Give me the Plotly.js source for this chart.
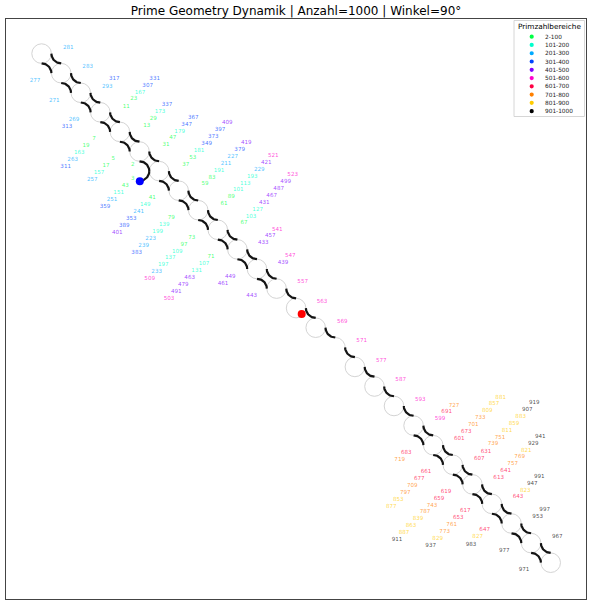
<!DOCTYPE html>
<html>
<head>
<meta charset="utf-8">
<script src="https://cdn.plot.ly/plotly-3.0.1.min.js"></script>
<style>html,body{margin:0;padding:0;background:#fff;}#chart{width:592px;height:605px;}</style>
</head>
<body>
<div id="chart"></div>
<script>
// ---- data ----
const primes = [2,3,5,7,11,13,17,19,23,29,31,37,41,43,47,53,59,61,67,71,73,79,83,89,97,
101,103,107,109,113,127,131,137,139,149,151,157,163,167,173,179,181,191,193,197,199,
211,223,227,229,233,239,241,251,257,263,269,271,277,281,283,293,
307,311,313,317,331,337,347,349,353,359,367,373,379,383,389,397,
401,409,419,421,431,433,439,443,449,457,461,463,467,479,487,491,499,
503,509,521,523,541,547,557,563,569,571,577,587,593,599,
601,607,613,617,619,631,641,643,647,653,659,661,673,677,683,691,
701,709,719,727,733,739,743,751,757,761,769,773,787,797,
809,811,821,823,827,829,839,853,857,859,863,877,881,883,887,
907,911,919,929,937,941,947,953,967,971,977,983,991,997];
const labelX = [132.7,132.7,113.3,94,126.3,146.7,106,86,133.7,153.3,166,185.7,152.3,125.3,172.7,192.7,205,224,244,211,191.7,171.3,212,231.3,184,
238.3,251,204,177.3,245.3,257.7,196.7,170.3,164.3,145.3,118.7,99,79.3,140,160,179.7,199,219,252.3,163.3,157.7,
226,150.7,232.7,259.3,156.7,143.7,138.7,112,92.3,72.7,74,54.3,35,68.3,87.7,107.3,
147.7,65.7,67,114.3,154.7,167,186.7,206.7,131.3,105,193.3,213.3,239.7,136.7,124.3,220,
117.3,227.3,246.3,266.3,264.3,263.3,283,251.7,230.3,270.3,223,189.7,271.7,183.3,278.7,176.3,285.7,
169,149.7,273.3,292.7,277.3,290.3,302.7,322,342.3,361.7,381.3,400.7,420.3,440,
459.3,479.3,498.7,465.3,446,486,505.7,518,484.7,458.3,439,426,466.3,419.3,406.3,446.7,
473.3,412.3,399.7,454,480.3,493,432,500,512.7,451.7,519.7,444.7,425,405.3,
487.3,507,526.3,525.3,477.7,437.7,418,398.3,494,514,411,391.3,500.7,520.7,404,
527.3,397,534.3,533.3,430.7,540.3,532.3,537.7,557.3,524,504.3,471,539.3,544.7];
const labelY = [164.3,178.3,159,139,106.3,125.3,166,146,99,118.3,145,164.3,197.7,185.3,138,157.7,184,204,223,256.7,237.3,217.7,177.3,196.7,244.3,
190,216.3,263.7,251.3,183.3,209.7,270.3,257.7,224.7,205,192.3,172.3,153,92.3,111.3,131.3,150.7,170.3,176.3,264.7,231.3,
163.3,238.3,156.3,169.3,271.7,245.3,211.7,199.3,179.3,160,119.7,100.3,81,47.7,67,86.3,
85.3,167,126.3,79,78.3,104.3,124.3,144,218.7,206.3,117.3,136.7,149.7,252.3,225.7,130,
232.7,123,142.7,162.3,202.7,243,262.7,295.7,276.7,236,283.3,277.3,195.7,284.7,188.7,291.3,181.7,
298.3,278.3,155.3,174.3,229.3,255.3,282,301.7,321.7,341,360.3,380,399.3,418.7,
439,458.3,477.7,511,491.7,451.3,470.7,497,530,518,498.3,472,431.7,478.7,452.3,412,
424.7,485.7,459.3,405.5,417.7,444,505.3,437.3,464,525,457,532,512,492.7,
411,430.7,450.3,490.3,537,538.7,519,499.7,404,423.7,526,506.7,397.3,416.7,533,
409.7,540,402.7,443.3,545.3,436.3,483.3,517,536.3,570,550.3,544.3,476.3,510];

const rangeNames = ['2-100','101-200','201-300','301-400','401-500','501-600','601-700','701-800','801-900','901-1000'];
const rangeColors = ['#00ff44','#00ffcc','#00aaff','#0044ff','#8000ff','#ff00cc','#ff0044','#ff8000','#ffcc00','#000000'];

// chain of circles along the diagonal (centres)
const diagX = [41.6,61.2,80.8,100.3,119.9,139.5,159.1,178.7,198.2,217.8,237.4,257.0,276.6,296.1,315.7,335.3,354.9,374.5,394.0,413.6,433.2,452.8,472.4,491.9,511.5,531.1,550.7];
const diagY = [53.6,73.2,92.8,112.3,131.9,151.5,171.1,190.7,210.2,229.8,249.4,269.0,288.6,308.1,327.7,347.3,366.9,386.5,406.0,425.6,445.2,464.8,484.4,503.9,523.5,543.1,562.7];
const missingCircles = [15];
const upperJunctions = [0,1,2,3,4,5,6,7,8,9,10,11,12,13,14,15,16,17,18,19,20,21,22,23,24,25];
const lowerJunctions = [0,1,2,3,4,5,6,7,8,9,10,11,19,20,21,22,23,24,25];
const startPoint = {x:139.8, y:181.3};
const endPoint = {x:301.7, y:314.0};

// ---- drawing ----
const R = 9.79;
const shapes = [];
diagX.forEach((cx, k) => {
  if (missingCircles.includes(k)) return;
  const cy = diagY[k];
  shapes.push({type:'circle', xref:'x', yref:'y', x0:cx-R, x1:cx+R, y0:cy-R, y1:cy+R,
    line:{color:'#d4d4d4', width:1}, layer:'below'});
});

function addArc(cx, cy, a0, a1, xs, ys) {
  const N = 24;
  for (let i = 0; i <= N; i++) {
    const t = (a0 + (a1 - a0) * i / N) * Math.PI / 180;
    xs.push(cx + R * Math.cos(t));
    ys.push(cy + R * Math.sin(t));
  }
  xs.push(null); ys.push(null);
}
const bx = [], by = [];
upperJunctions.forEach(j => addArc(diagX[j+1], diagY[j], 90, 180, bx, by));
lowerJunctions.forEach(j => addArc(diagX[j], diagY[j+1], 270, 360, bx, by));
addArc(diagX[5], diagY[6], 90, 0, bx, by);
const fx = [], fy = [];
missingCircles.forEach(k => addArc(diagX[k], diagY[k], 270, 360, fx, fy));

const traces = [];
traces.push({type:'scatter', mode:'lines', x:fx, y:fy, line:{color:'#d4d4d4', width:1}, hoverinfo:'skip', showlegend:false});
traces.push({type:'scatter', mode:'lines', x:bx, y:by, line:{color:'rgba(0,0,0,0.92)', width:2.2}, hoverinfo:'skip', showlegend:false});

function hexA(h, a) {
  const r = parseInt(h.slice(1,3),16), g = parseInt(h.slice(3,5),16), b = parseInt(h.slice(5,7),16);
  return 'rgba(' + r + ',' + g + ',' + b + ',' + a + ')';
}
rangeNames.forEach((name, gi) => {
  const xs = [], ys = [], ts = [];
  primes.forEach((p, i) => {
    if (Math.min(9, Math.floor((p - 1) / 100)) === gi) { xs.push(labelX[i]); ys.push(labelY[i]); ts.push(String(p)); }
  });
  traces.push({type:'scatter', mode:'text', x:xs, y:ys, text:ts, textposition:'middle center',
    textfont:{family:'DejaVu Sans', size:5.6, color:hexA(rangeColors[gi], 0.72)}, name:name, showlegend:false, hoverinfo:'text'});
});
traces.push({type:'scatter', mode:'markers', x:[startPoint.x], y:[startPoint.y], marker:{color:'#0000ff', size:8}, showlegend:false, hoverinfo:'skip'});
traces.push({type:'scatter', mode:'markers', x:[endPoint.x], y:[endPoint.y], marker:{color:'#ff0000', size:8}, showlegend:false, hoverinfo:'skip'});

// ---- custom legend (matplotlib-like compact box) ----
const PX0 = 6, PY0 = 19, PW = 580, PH = 580;
const px = x => (x - PX0) / PW;
const py = y => 1 - (y - PY0) / PH;
const annotations = [];
shapes.push({type:'rect', xref:'paper', yref:'paper', x0:px(514), x1:px(584.5), y0:py(116.5), y1:py(20.5),
  line:{color:'#cccccc', width:0.8}, fillcolor:'rgba(255,255,255,0.85)', layer:'above'});
annotations.push({xref:'paper', yref:'paper', x:px(549), y:py(26.3), text:'Primzahlbereiche', showarrow:false,
  xanchor:'center', yanchor:'middle', font:{family:'DejaVu Sans', size:7.3, color:'#000'}});
rangeNames.forEach((name, i) => {
  const yy = 36.7 + 8.27 * i;
  const d = 2.1;
  shapes.push({type:'circle', xref:'paper', yref:'paper', x0:px(531.7-d), x1:px(531.7+d), y0:py(yy+d), y1:py(yy-d),
    fillcolor:rangeColors[i], line:{width:0}, layer:'above'});
  annotations.push({xref:'paper', yref:'paper', x:px(543), y:py(yy), text:name, showarrow:false,
    xanchor:'left', yanchor:'middle', font:{family:'DejaVu Sans', size:5.8, color:'#222'}});
});

const layout = {
  width:592, height:605,
  margin:{l:6, r:6, t:19, b:6, pad:0},
  paper_bgcolor:'#ffffff', plot_bgcolor:'#ffffff',
  title:{text:'Prime Geometry Dynamik | Anzahl=1000 | Winkel=90°', x:0.5, xanchor:'center', y:1 - 11/605, yanchor:'middle',
    font:{family:'DejaVu Sans', size:12, color:'#000'}},
  xaxis:{range:[6,586], showgrid:false, zeroline:false, showticklabels:false, ticks:'', showline:true, mirror:true, linecolor:'#444', linewidth:1, fixedrange:true},
  yaxis:{range:[599,19], showgrid:false, zeroline:false, showticklabels:false, ticks:'', showline:true, mirror:true, linecolor:'#444', linewidth:1, fixedrange:true},
  shapes:shapes,
  annotations:annotations,
  showlegend:false
};
Plotly.newPlot('chart', traces, layout, {displayModeBar:false, staticPlot:true});
</script>
</body>
</html>
